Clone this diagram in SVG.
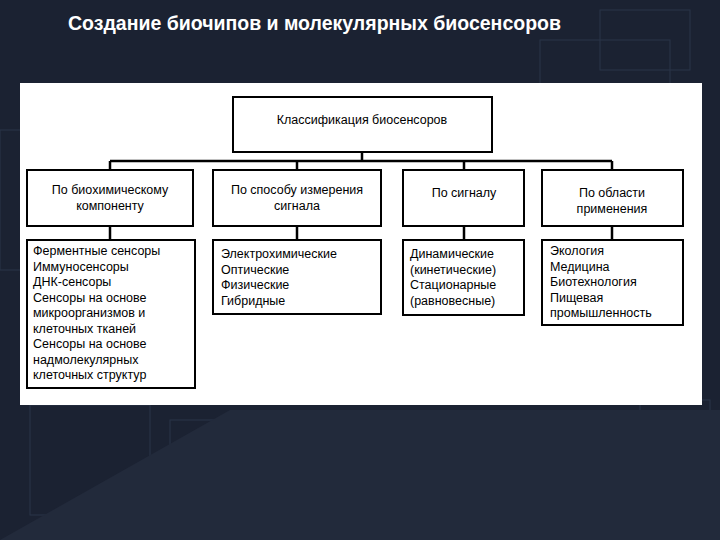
<svg xmlns="http://www.w3.org/2000/svg" width="720" height="540" viewBox="0 0 720 540">
<style>
.b{fill:#fff;stroke:#000;stroke-width:2}
.t{font-family:"Liberation Sans",Arial,sans-serif;font-size:12.5px;fill:#000}
.c{stroke:#000;stroke-width:2.5;fill:none}
.g{fill:none;stroke:#2a3448;stroke-width:1}
</style>
<rect width="720" height="540" fill="#1b2232"/>
<g class="g">
<rect x="540" y="40" width="130" height="100"/><rect x="600" y="10" width="90" height="60"/>
<rect x="30" y="405" width="120" height="110"/><rect x="170" y="420" width="90" height="80"/>
<rect x="0" y="130" width="40" height="140"/><rect x="640" y="400" width="70" height="120"/>
</g>
<path d="M0 540 L230 410 L720 410 L720 540 Z" fill="#222a3b"/>
<text x="68" y="30" font-family="Liberation Sans,Arial,sans-serif" font-size="19.5" font-weight="bold" fill="#fff">Создание биочипов и молекулярных биосенсоров</text>
<rect x="20" y="83" width="682" height="322" fill="#fff"/>
<g id="connectors" class="c">
<path d="M362 152V161M110 161H612M110 161V170M297 161V170M464 161V170M612 161V170"/>
<path d="M110 226V240M297 226V240M464 226V240M612 226V240"/>
</g>
<g id="root"><rect class="b" x="233" y="97" width="259" height="55" stroke-width="3.5"/><text class="t" x="362" y="124" text-anchor="middle" font-size="14">Классификация биосенсоров</text></g>
<g id="c1"><rect class="b" x="27" y="170" width="166" height="56"/><text class="t" x="110" y="194" text-anchor="middle">По биохимическому</text><text class="t" x="110" y="210" text-anchor="middle">компоненту</text></g>
<g id="c2"><rect class="b" x="213" y="170" width="168" height="56"/><text class="t" x="297" y="194" text-anchor="middle">По способу измерения</text><text class="t" x="297" y="210" text-anchor="middle">сигнала</text></g>
<g id="c3"><rect class="b" x="403" y="170" width="121" height="56"/><text class="t" x="464" y="197" text-anchor="middle">По сигналу</text></g>
<g id="c4"><rect class="b" x="542" y="170" width="141" height="56"/><text class="t" x="612" y="197" text-anchor="middle">По области</text><text class="t" x="612" y="213" text-anchor="middle">применения</text></g>
<g id="l1"><rect class="b" x="27" y="240" width="168" height="148" stroke-width="2.5"/>
<text class="t" x="33" y="255">Ферментные сенсоры</text><text class="t" x="33" y="270.5">Иммуносенсоры</text><text class="t" x="33" y="286">ДНК-сенсоры</text><text class="t" x="33" y="301.5">Сенсоры на основе</text><text class="t" x="33" y="317">микроорганизмов и</text><text class="t" x="33" y="332.5">клеточных тканей</text><text class="t" x="33" y="348">Сенсоры на основе</text><text class="t" x="33" y="363.5">надмолекулярных</text><text class="t" x="33" y="379">клеточных структур</text></g>
<g id="l2"><rect class="b" x="213" y="240" width="168" height="74" stroke-width="2.5"/>
<text class="t" x="221" y="258">Электрохимические</text><text class="t" x="221" y="273.5">Оптические</text><text class="t" x="221" y="289">Физические</text><text class="t" x="221" y="304.5">Гибридные</text></g>
<g id="l3"><rect class="b" x="403" y="240" width="121" height="75" stroke-width="2.5"/>
<text class="t" x="410" y="258">Динамические</text><text class="t" x="410" y="273.5">(кинетические)</text><text class="t" x="410" y="289">Стационарные</text><text class="t" x="410" y="304.5">(равновесные)</text></g>
<g id="l4"><rect class="b" x="542" y="240" width="141" height="85" stroke-width="2.5"/>
<text class="t" x="550" y="255">Экология</text><text class="t" x="550" y="270.5">Медицина</text><text class="t" x="550" y="286">Биотехнология</text><text class="t" x="550" y="301.5">Пищевая</text><text class="t" x="550" y="317">промышленность</text></g>
</svg>
